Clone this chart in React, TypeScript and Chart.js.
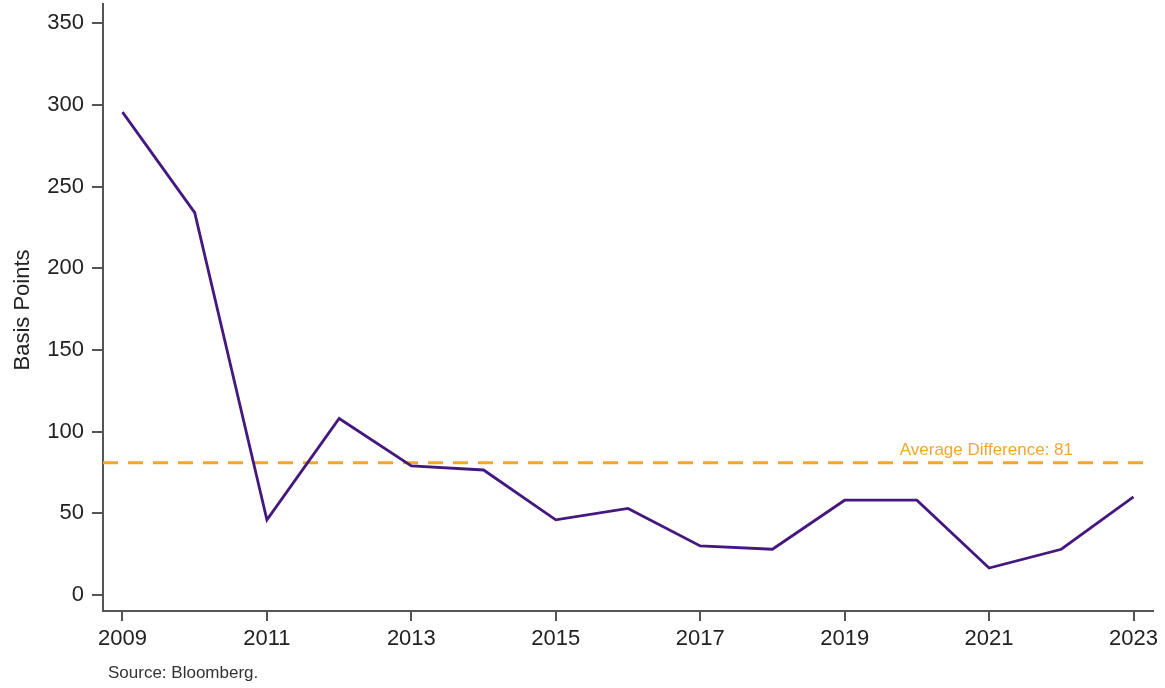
import React, { useEffect, useRef } from 'react';
import { Chart, registerables } from 'chart.js';

Chart.register(...registerables);

const years = [2009, 2010, 2011, 2012, 2013, 2014, 2015, 2016, 2017, 2018, 2019, 2020, 2021, 2022, 2023];
const spreadBp = [295.5, 234, 46, 108, 79, 76.5, 46, 53, 30, 28, 58, 58, 16.5, 28, 60];
const averageDifference = 81;
const xTickYears = [2009, 2011, 2013, 2015, 2017, 2019, 2021, 2023];
const yTickValues = [0, 50, 100, 150, 200, 250, 300, 350];
const yAxisTitle = 'Basis Points';
const averageLabel = 'Average Difference: 81';
const sourceNote = 'Source: Bloomberg.';

const FONT = "'Liberation Sans', Arial, Helvetica, sans-serif";
const LINE_COLOR = '#44187F';
const AVG_COLOR = '#F2A632';
const AXIS_COLOR = '#555555';

const overlayPlugin = {
  id: 'overlay',
  beforeDatasetsDraw(chart: any) {
    const { ctx, chartArea, scales } = chart;
    const y = scales.y.getPixelForValue(averageDifference);
    ctx.save();
    ctx.strokeStyle = AVG_COLOR;
    ctx.lineWidth = 3;
    ctx.setLineDash([15, 10]);
    ctx.beginPath();
    ctx.moveTo(chartArea.left, y);
    ctx.lineTo(chartArea.right, y);
    ctx.stroke();
    ctx.setLineDash([]);
    ctx.fillStyle = AVG_COLOR;
    ctx.font = `17px ${FONT}`;
    ctx.textAlign = 'right';
    ctx.textBaseline = 'alphabetic';
    ctx.fillText(averageLabel, chartArea.right - 80, y - 8);
    ctx.restore();
  },
  afterDraw(chart: any) {
    const { ctx, chartArea } = chart;
    ctx.save();
    ctx.fillStyle = '#222222';
    ctx.font = `22px ${FONT}`;
    ctx.textAlign = 'center';
    ctx.textBaseline = 'middle';
    ctx.translate(23, 310);
    ctx.rotate(-Math.PI / 2);
    ctx.fillText(yAxisTitle, 0, 0);
    ctx.restore();

    ctx.save();
    ctx.fillStyle = '#333333';
    ctx.font = `17px ${FONT}`;
    ctx.textAlign = 'left';
    ctx.textBaseline = 'middle';
    ctx.fillText(sourceNote, 108, 673);
    ctx.restore();
  },
};

export default function App() {
  const canvasRef = useRef<HTMLCanvasElement | null>(null);

  useEffect(() => {
    document.body.style.margin = '0';
    const canvas = canvasRef.current;
    if (!canvas) return;
    const chart = new Chart(canvas, {
      type: 'line',
      data: {
        datasets: [
          {
            data: years.map((yr, i) => ({ x: yr, y: spreadBp[i] })),
            borderColor: LINE_COLOR,
            backgroundColor: LINE_COLOR,
            borderWidth: 2.8,
            pointRadius: 0,
            tension: 0,
          },
        ],
      },
      options: {
        animation: false,
        responsive: false,
        devicePixelRatio: 1,
        layout: { padding: { top: 4, right: 12, left: 0, bottom: 0 } },
        plugins: {
          legend: { display: false },
          tooltip: { enabled: false },
          title: { display: false },
        },
        scales: {
          x: {
            type: 'linear',
            min: 2008.73,
            max: 2023.27,
            afterBuildTicks: (s: any) => {
              s.ticks = xTickYears.map((v) => ({ value: v }));
            },
            afterFit: (s: any) => {
              s.height = 77;
              s.paddingLeft = 0;
              s.paddingRight = 0;
            },
            ticks: {
              autoSkip: false,
              maxRotation: 0,
              color: '#222222',
              font: { size: 22, family: FONT },
              padding: 5,
              callback: (v: any) => String(v),
            },
            grid: {
              display: true,
              drawOnChartArea: false,
              drawTicks: true,
              tickLength: 10,
              color: AXIS_COLOR,
              lineWidth: 2,
            },
            border: { display: true, color: AXIS_COLOR, width: 2 },
          },
          y: {
            type: 'linear',
            min: -9.8,
            max: 361.7,
            afterBuildTicks: (s: any) => {
              s.ticks = yTickValues.map((v) => ({ value: v }));
            },
            afterFit: (s: any) => {
              s.width = 103;
              s.paddingTop = 0;
              s.paddingBottom = 0;
            },
            ticks: {
              autoSkip: false,
              color: '#222222',
              font: { size: 22, family: FONT },
              padding: 8,
              callback: (v: any) => String(v),
            },
            grid: {
              display: true,
              drawOnChartArea: false,
              drawTicks: true,
              tickLength: 11,
              color: AXIS_COLOR,
              lineWidth: 2,
            },
            border: { display: true, color: AXIS_COLOR, width: 2 },
          },
        },
      },
      plugins: [overlayPlugin],
    });
    return () => chart.destroy();
  }, []);

  return (
    <div style={{ position: 'absolute', left: 0, top: 0, width: 1165, height: 688, background: '#ffffff' }}>
      <canvas ref={canvasRef} width={1165} height={688} style={{ display: 'block' }} />
    </div>
  );
}
